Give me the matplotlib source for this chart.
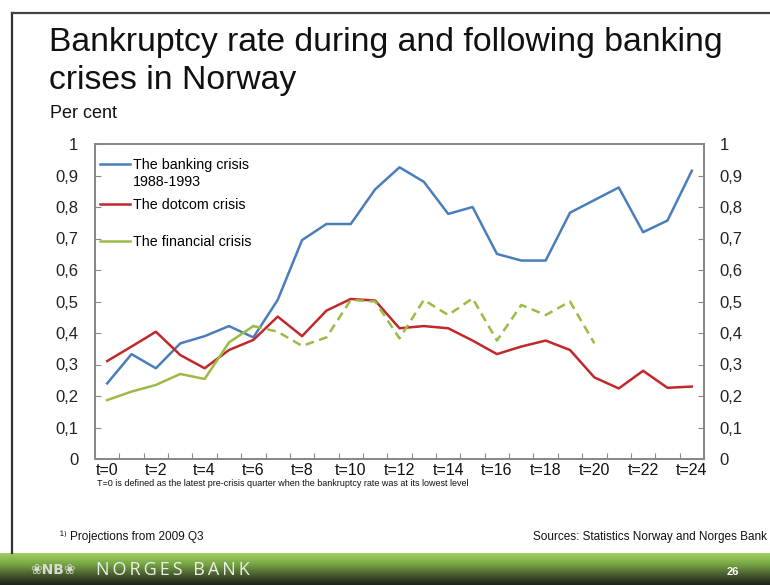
import numpy as np
import matplotlib
matplotlib.use('Agg')
import matplotlib.pyplot as plt
from matplotlib.lines import Line2D
from matplotlib.legend import Legend

# Quarters after the start of each crisis
quarters = list(range(25))
tick_labels = [f't={q}' if q % 2 == 0 else '' for q in quarters]

banking = [0.24, 0.333, 0.288, 0.367, 0.39, 0.422, 0.386, 0.505, 0.695, 0.746,
           0.746, 0.856, 0.926, 0.88, 0.778, 0.80, 0.651, 0.63, 0.63, 0.782,
           0.822, 0.862, 0.72, 0.757, 0.915]
dotcom = [0.311, 0.357, 0.404, 0.33, 0.288, 0.346, 0.378, 0.452, 0.39, 0.471,
          0.508, 0.503, 0.415, 0.422, 0.415, 0.376, 0.333, 0.357, 0.376, 0.346,
          0.259, 0.224, 0.28, 0.226, 0.23]
# Financial crisis: actual figures up to t=6, projections afterwards
financial_actual = [0.187, 0.214, 0.235, 0.27, 0.254, 0.37, 0.422]
financial_proj = [0.422, 0.404, 0.359, 0.386, 0.505, 0.50, 0.383, 0.505, 0.457,
                  0.51, 0.376, 0.489, 0.457, 0.50, 0.367]

series_names = ['The banking crisis', 'The dotcom crisis', 'The financial crisis']
banking_period = '1988-1993'

BLUE = '#4a7ebb'
RED = '#c0282b'
GREEN = '#9bbb44'
FONT = ['Liberation Sans', 'DejaVu Sans']

plt.rcParams['font.family'] = FONT

W, H = 770, 585
fig = plt.figure(figsize=(W / 100, H / 100), dpi=100)
fig.patch.set_facecolor('white')


def px(x, y):
    return x / W, 1 - y / H


# slide frame
fig.add_artist(Line2D([12 / W, 12 / W], [1 - 13 / H, 1 - 553 / H], color='#333333', lw=1.6))
fig.add_artist(Line2D([12 / W, 1], [1 - 13 / H, 1 - 13 / H], color='#444444', lw=1.6))

# green footer band
band = fig.add_axes([0, 0, 1, 32 / H])
grad = np.linspace(0, 1, 64).reshape(-1, 1)
cmap = matplotlib.colors.LinearSegmentedColormap.from_list(
    'band', ['#a0d060', '#78a845', '#4a5e30', '#1f231a'])
band.imshow(grad, aspect='auto', cmap=cmap, extent=[0, 1, 0, 1], origin='upper')
band.set_axis_off()
fig.text(*px(30, 570), '\u2740NB\u2740', color='#d8dcd0', fontsize=10, fontweight='bold',
         va='center', ha='left', family=['DejaVu Sans'])
fig.text(*px(96, 570), '\u2009'.join('NORGES BANK'), color='#eceee6', fontsize=13,
         va='center', ha='left', family=['Open Sans', 'DejaVu Sans'])
fig.text(*px(733, 572), '26', color='white', fontsize=8, fontweight='bold', va='center',
         ha='center')

# titles
fig.text(*px(49, 42), 'Bankruptcy rate during and following banking', fontsize=24.3,
         va='center', ha='left', color='#111111')
fig.text(*px(49, 80), 'crises in Norway', fontsize=24.3, va='center', ha='left',
         color='#111111')
fig.text(*px(50, 113), 'Per cent', fontsize=13, va='center', ha='left', color='#111111')

ax = fig.add_axes([95 / W, 1 - 459 / H, 609 / W, 315 / H])
l1, = ax.plot(quarters, banking, color=BLUE, lw=1.8)
l2, = ax.plot(quarters, dotcom, color=RED, lw=1.8)
l3, = ax.plot(quarters[:len(financial_actual)], financial_actual, color=GREEN, lw=1.8)
ax.plot(quarters[6:6 + len(financial_proj)], financial_proj, color=GREEN, lw=1.8,
        ls=(0, (3.5, 2.2)))

ax.set_xlim(-0.5, 24.5)
ax.set_ylim(0, 1)
yticks = np.round(np.arange(0, 1.01, 0.1), 1)
ylabels = ['0' if v == 0 else '1' if v == 1 else f'{v:.1f}'.replace('.', ',') for v in yticks]
ax.set_yticks(yticks)
ax.set_yticklabels(ylabels, fontsize=12, color='#222222')
ax.tick_params(axis='y', direction='in', length=4, pad=12, color='#888888')

# tick marks sit on category borders, labels on categories
ax.set_xticks(np.arange(-0.5, 25, 1))
ax.set_xticklabels([])
ax.tick_params(axis='x', which='major', direction='in', length=4, color='#888888')
ax.set_xticks(quarters, minor=True)
ax.set_xticklabels(tick_labels, minor=True, fontsize=11.5, color='#111111')
ax.tick_params(axis='x', which='minor', length=0, pad=3)

for s in ax.spines.values():
    s.set_color('#888888')
    s.set_linewidth(1.3)

ax2 = ax.twinx()
ax2.set_ylim(0, 1)
ax2.set_yticks(yticks)
ax2.set_yticklabels(ylabels, fontsize=12, color='#222222')
ax2.tick_params(axis='y', direction='in', length=4, pad=11, color='#888888')
for s in ax2.spines.values():
    s.set_color('#888888')
    s.set_linewidth(1.3)

# legend: one small legend per series so the rows can be spaced freely
for line, name, ypos in zip([l1, l2, l3], series_names, [0.957, 0.827, 0.71]):
    lg = Legend(ax2, [line], [name], loc='upper left', bbox_to_anchor=(0.008, ypos),
                frameon=False, fontsize=10.3, handlelength=2.1, handletextpad=0.2,
                borderaxespad=0.0, borderpad=0.0)
    ax2.add_artist(lg)
ax2.text(0.0625, 0.879, banking_period, transform=ax2.transAxes, fontsize=10.3,
         va='center', ha='left', color='black')

fig.text(*px(97, 484), 'T=0 is defined as the latest pre-crisis quarter when the bankruptcy '
         'rate was at its lowest level', fontsize=6.5, va='center', ha='left',
         color='#111111')
fig.text(*px(60, 537), '\u00b9\u207e Projections from 2009 Q3', fontsize=8.5,
         va='center', ha='left', color='#111111')
fig.text(*px(767, 537), 'Sources: Statistics Norway and Norges Bank', fontsize=8.5,
         va='center', ha='right', color='#111111')

fig.savefig('out.png', dpi=100)
